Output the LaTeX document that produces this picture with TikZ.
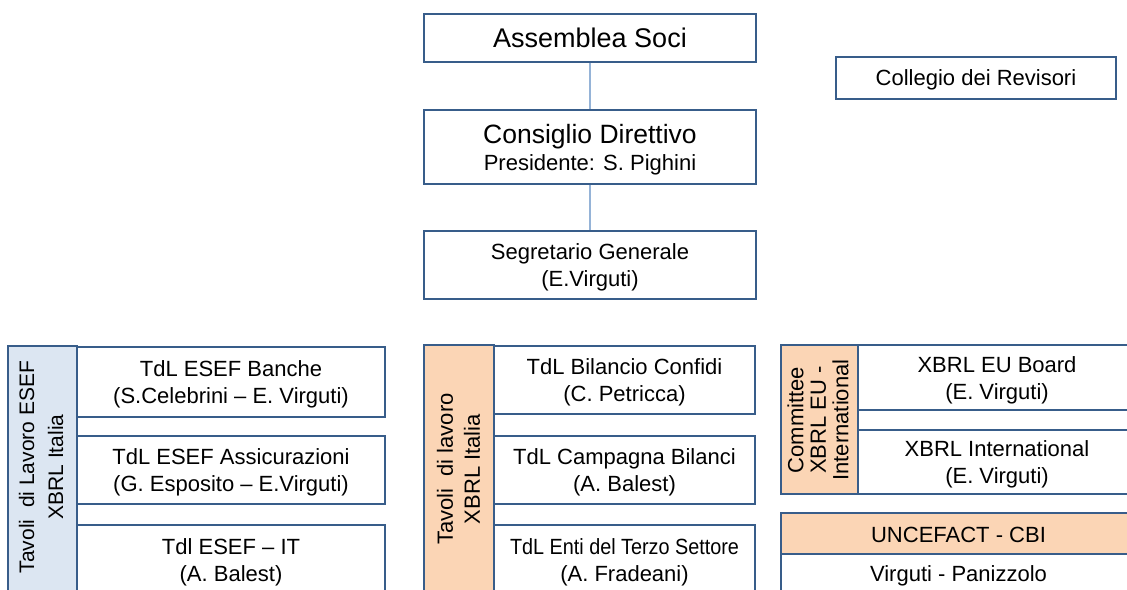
\documentclass[tikz,border=0pt]{standalone}
\usepackage{fontspec}
\usepackage{graphicx}
\setmainfont{Liberation Sans}
\definecolor{bord}{HTML}{385D8A}
\definecolor{connc}{HTML}{95B3D7}
\definecolor{bluef}{HTML}{DCE6F2}
\definecolor{peach}{HTML}{FBD5B5}
\begin{document}
\begin{tikzpicture}[x=1bp,y=-1bp,
  box/.style={draw=bord, line width=1.3bp, fill=white, inner sep=0pt, align=center,
    font=\fontsize{22bp}{27bp}\selectfont, execute at begin node={\rule{0pt}{19bp}}},
  box2/.style={box, execute at begin node={\rule{0pt}{48bp}}},
  bigt/.style={font=\fontsize{27bp}{30bp}\selectfont},
  barbox/.style={draw=bord, line width=1.3bp, inner sep=0pt},
  vlabel/.style={rotate=90, align=center, inner sep=0pt},
  connline/.style={draw=connc, line width=1.5bp}]
\useasboundingbox (0,0) rectangle (1127,590);
\fill[white] (0,0) rectangle (1127,590);
\clip (0,0) rectangle (1127,590);

% top hierarchy
\node[box, bigt, minimum width=332bp, minimum height=48bp] (as) at (590,38) {Assemblea Soci};
\node[box2, minimum width=332bp, minimum height=74bp, execute at begin node={\rule{0pt}{51bp}}] (cd) at (590,147)
  {{\fontsize{26.5bp}{28bp}\selectfont Consiglio Direttivo}\\Presidente: S. Pighini};
\node[box2, minimum width=332bp, minimum height=68bp] (sg) at (590,265)
  {Segretario Generale\\(E.Virguti)};
\node[box, minimum width=280bp, minimum height=42bp] (cr) at (976,78) {Collegio dei Revisori};
\draw[connline] (as) -- (cd);
\draw[connline] (cd) -- (sg);

% left group
\node[barbox, fill=bluef, minimum width=69bp, minimum height=254bp] (lbar) at (42.5,473) {};
\node[vlabel, font=\fontsize{21bp}{29bp}\selectfont] (llab) at (41,467)
  {Tavoli\ \ di Lavoro ESEF\\XBRL Italia};
\node[box2, minimum width=308bp, minimum height=70bp] (l1) at (231,382)
  {TdL ESEF Banche\\(S.Celebrini – E. Virguti)};
\node[box2, minimum width=308bp, minimum height=68bp] (l2) at (231,470)
  {TdL ESEF Assicurazioni\\(G. Esposito – E.Virguti)};
\node[box2, minimum width=308bp, minimum height=70bp] (l3) at (231,560)
  {Tdl ESEF – IT\\(A. Balest)};

% middle group
\node[barbox, fill=peach, minimum width=70bp, minimum height=255bp] (mbar) at (459,472.5) {};
\node[vlabel, font=\fontsize{22bp}{27bp}\selectfont] (mlab) at (458.5,469)
  {Tavoli\ \ di lavoro\\XBRL Italia};
\node[box2, minimum width=261bp, minimum height=68bp] (m1) at (624.5,380)
  {TdL Bilancio Confidi\\(C. Petricca)};
\node[box2, minimum width=261bp, minimum height=68bp] (m2) at (624.5,470)
  {TdL Campagna Bilanci\\(A. Balest)};
\node[box2, minimum width=261bp, minimum height=70bp] (m3) at (624.5,560)
  {\scalebox{0.9}[1]{TdL Enti del Terzo Settore}\\(A. Fradeani)};

% right group
\node[barbox, fill=peach, minimum width=77bp, minimum height=149bp] (rbar) at (819.5,419.5) {};
\node[vlabel, font=\fontsize{22bp}{22.5bp}\selectfont] (rlab) at (818,420)
  {Committee\\XBRL EU -\\International};
\node[box2, minimum width=278bp, minimum height=65bp] (r1) at (997,377.5)
  {XBRL EU Board\\(E. Virguti)};
\node[box, minimum width=278bp, minimum height=20bp, execute at begin node={}] (rg) at (997,420) {};
\node[box2, minimum width=278bp, minimum height=64bp] (r2) at (997,462)
  {XBRL International\\(E. Virguti)};
\node[box, fill=peach, minimum width=355bp, minimum height=41bp, execute at begin node={}] (un) at (958.5,533.5)
  {UNCEFACT - CBI};
\node[box, minimum width=355bp, minimum height=40bp] (vp) at (958.5,574)
  {Virguti - Panizzolo};
\end{tikzpicture}
\end{document}
